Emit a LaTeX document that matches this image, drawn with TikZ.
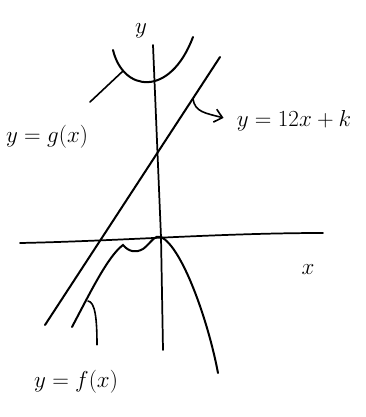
\documentclass[tikz,border=0pt]{standalone}
\usepackage{amsmath}
\usetikzlibrary{arrows.meta,positioning,calc}
\tikzset{
  skaxis/.style={line width=1.3pt, black, line cap=round},
  skcurve/.style={line width=1.5pt, black, line cap=round},
  pointer/.style={line width=1.2pt, black, line cap=round},
  hookarrow/.style={pointer, -{Straight Barb[length=2mm, width=3.5mm]}},
  lbl/.style={font=\LARGE, inner sep=1pt}
}

\begin{document}
\begin{tikzpicture}[x=0.75pt, y=-0.75pt]
  \useasboundingbox (0,0) rectangle (366,417);
  \node[lbl] (ylab) at (141,31) {$y$};
  \node[lbl] (xlab) at (308,270) {$x$};
  \node[lbl] (glab) at (47,137) {$y=g(x)$};
  \node[lbl] (llab) at (294,121) {$y=12x+k$};
  \node[lbl] (flab) at (76,382) {$y=f(x)$};
  \coordinate (gtail) at (90,102);
  \coordinate (gtip) at (123,71);
  \coordinate (ltip) at (193,99);
  \coordinate (ftip) at (88,301);
  \draw[skaxis] (20,243) .. controls (120,241) and (220,233) .. (323,233);
  \draw[skaxis] (153,45) -- (161,237) -- (163,350);
  \draw[skcurve] (113,50) .. controls (123,92) and (170,98) .. (193,37);
  \draw[skcurve] (220,57) -- (45,325);
  \draw[skcurve] (72,327) .. controls (90,293) and (108,256) .. (123,245)
    .. controls (129,252) and (136,253) .. (143,249)
    .. controls (150,244) and (155,234) .. (161,237)
    .. controls (182,247) and (208,320) .. (218,373);
  \draw[pointer] (gtail) -- (gtip);
  \draw[hookarrow, shorten >=9pt] (ltip) .. controls (195,112) and (205,113) .. (llab.west);
  \draw[pointer, shorten >=18pt] (ftip) .. controls (95,302) and (97,318) .. (flab.north -| 97,0);
\end{tikzpicture}
\end{document}
